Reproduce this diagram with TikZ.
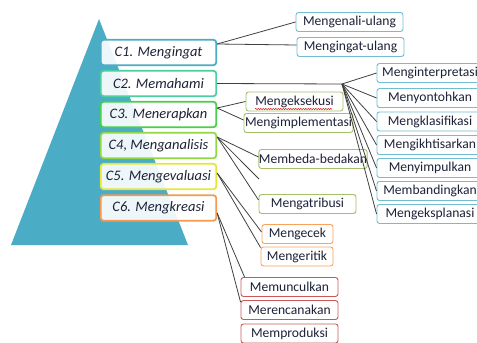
\documentclass[tikz,border=0pt]{standalone}
\usepackage{fontspec}
\setmainfont{Carlito}
\usetikzlibrary{calc,decorations.pathmorphing}
\definecolor{tri}{HTML}{4BACC6}
\definecolor{txt}{HTML}{1E2238}
\definecolor{ca}{HTML}{4BACC6}
\definecolor{cb}{HTML}{4CCFA0}
\definecolor{cc}{HTML}{45D14A}
\definecolor{cd}{HTML}{92D845}
\definecolor{ce}{HTML}{E6E637}
\definecolor{cf}{HTML}{F59A4F}
\definecolor{lblue}{HTML}{72BCD4}
\definecolor{lgreen}{HTML}{A4C16A}
\definecolor{lorange}{HTML}{F7A35C}
\definecolor{lred}{HTML}{C9595A}
\definecolor{conn}{HTML}{404040}
\begin{document}
\begin{tikzpicture}[x=1pt,y=-1pt,
  lvl/.style={draw=#1, line width=1.8pt, rounded corners=3pt, fill=white, fill opacity=0.9, text opacity=1,
    minimum width=115.5pt, minimum height=25.5pt, inner sep=0pt, font=\fontsize{14.5}{16}\selectfont\itshape, text=txt},
  leaf/.style={draw=#1, line width=0.9pt, rounded corners=2.5pt, fill=white, minimum height=19pt,
    inner sep=0pt, font=\fontsize{13.6}{15}\selectfont, text=txt},
  link/.style={draw=conn, line width=0.8pt}]
\useasboundingbox (0,0) rectangle (477,343);
% pyramid
\fill[tri] (11,245) -- (99,19) -- (188,245) -- cycle;
% level boxes
\node[lvl=ca] (c1) at (158.5,52.5) {C1. Mengingat};
\node[lvl=cb] (c2) at (158.5,83.5) {C2. Memahami};
\node[lvl=cc] (c3) at (158.5,114.5) {C3. Menerapkan};
\node[lvl=cd] (c4) at (158.5,145.5) {C4, Menganalisis};
\node[lvl=ce] (c5) at (158.5,176.5) {C5. Mengevaluasi};
\node[lvl=cf] (c6) at (158.5,208) {C6. Mengkreasi};
% C1 leaves
\node[leaf=lblue, minimum width=107pt] (l11) at (349.5,22) {Mengenali-ulang};
\node[leaf=lblue, minimum width=107pt] (l12) at (350.5,47) {Mengingat-ulang};
% C2 leaves
\node[leaf=lblue, minimum width=106pt] (l21) at (430,73) {Menginterpretasi};
\node[leaf=lblue, minimum width=106pt] (l22) at (430,98) {Menyontohkan};
\node[leaf=lblue, minimum width=106pt] (l23) at (430,121.5) {Mengklasifikasi};
\node[leaf=lblue, minimum width=106pt] (l24) at (430,145) {Mengikhtisarkan};
\node[leaf=lblue, minimum width=106pt] (l25) at (430,168) {Menyimpulkan};
\node[leaf=lblue, minimum width=106pt] (l26) at (430,191) {Membandingkan};
\node[leaf=lblue, minimum width=106pt] (l27) at (430,214) {Mengeksplanasi};
% C3 leaves
\node[leaf=lgreen, minimum width=97pt] (l31) at (294.5,101.5) {Mengeksekusi};
\node[leaf=lgreen, minimum width=109pt] (l32) at (298.5,123) {Mengimplementasi};
% C4 leaves
\node[leaf=lgreen, minimum width=108pt] (l41) at (313,159) {Membeda-bedakan};
\node[leaf=lgreen, minimum width=97pt] (l42) at (307.5,204) {Mengatribusi};
\coordinate (l4x) at (259,179);
% C5 leaves
\node[leaf=lorange, minimum width=71pt] (l51) at (297.5,234) {Mengecek};
\node[leaf=lorange, minimum width=72pt] (l52) at (297,256.5) {Mengeritik};
% C6 leaves
\node[leaf=lred, minimum width=97pt] (l61) at (289.5,287) {Memunculkan};
\node[leaf=lred, minimum width=97pt] (l62) at (289.5,310) {Merencanakan};
\node[leaf=lred, minimum width=97pt] (l63) at (289.5,333.5) {Memproduksi};
% spell-check squiggle
\draw[red!85!black, line width=0.5pt, decorate, decoration={snake, segment length=2.5pt, amplitude=0.6pt}]
  (255,109) -- (332,109);
% connectors
\coordinate (p1) at ([yshift=8.5pt]c1.east);
\coordinate (p2) at (c2.east);
\coordinate (p3) at ([yshift=6.5pt]c3.east);
\coordinate (p4) at ([yshift=8.5pt]c4.east);
\coordinate (p5) at ([yshift=3.5pt]c5.east);
\coordinate (p6) at ([yshift=-5pt]c6.east);
\coordinate (hub) at (342,84);
\draw[link] (p1) -- (l11.west);
\draw[link] (p1) -- ([yshift=2pt]l12.west);
\draw[link] (p2) -- (hub);
\foreach \n in {l21,l22,l23,l24,l25,l26,l27} \draw[link] (hub) -- (\n.west);
\draw[link] (p3) -- (l31.west);
\draw[link] (p3) -- ([yshift=3pt]l32.west);
\draw[link] (p4) -- ([yshift=2pt]l41.west);
\draw[link] (p4) -- (l4x);
\draw[link] (p4) -- ([yshift=4pt]l42.west);
\draw[link] (p5) -- ([yshift=2pt]l51.west);
\draw[link] (p5) -- ([yshift=-1pt]l52.north west);
\draw[link] (p6) -- ([xshift=4pt]l61.north west);
\draw[link] (p6) -- ([yshift=-2pt]l62.north west);
\end{tikzpicture}
\end{document}
